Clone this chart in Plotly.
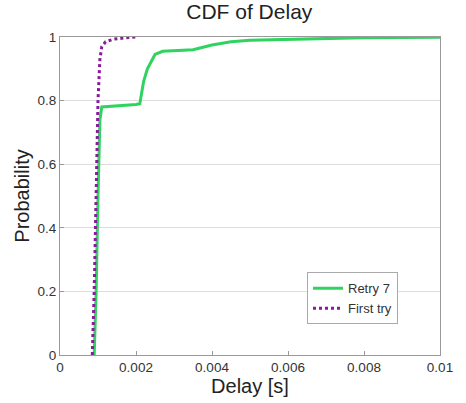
import plotly.graph_objects as go

# Empirical CDF samples of delay (seconds)
retry7_delay = [0.0009, 0.00095, 0.001, 0.00105, 0.0011, 0.0015, 0.002, 0.0021,
                0.0022, 0.0023, 0.0025, 0.0027, 0.003, 0.0035, 0.004, 0.0045,
                0.005, 0.006, 0.007, 0.008, 0.01]
retry7_prob = [0.0, 0.2, 0.5, 0.74, 0.78, 0.783, 0.788, 0.79,
               0.86, 0.9, 0.945, 0.955, 0.957, 0.96, 0.975, 0.985,
               0.99, 0.993, 0.996, 0.998, 0.999]

first_delay = [0.00085, 0.0009, 0.00095, 0.001, 0.00105, 0.0011, 0.0012,
               0.0014, 0.0017, 0.002]
first_prob = [0.0, 0.2, 0.5, 0.8, 0.93, 0.97, 0.985, 0.993, 0.997, 1.0]

x_ticks = [0, 0.002, 0.004, 0.006, 0.008, 0.01]
x_tick_text = ["0", "0.002", "0.004", "0.006", "0.008", "0.01"]
y_ticks = [0, 0.2, 0.4, 0.6, 0.8, 1]
y_tick_text = ["0", "0.2", "0.4", "0.6", "0.8", "1"]

font = "Liberation Sans, Arial, sans-serif"

fig = go.Figure()
fig.add_trace(go.Scatter(
    x=retry7_delay, y=retry7_prob, mode="lines", name="Retry 7",
    line=dict(color="#2fd35f", width=3),
))
fig.add_trace(go.Scatter(
    x=first_delay, y=first_prob, mode="lines", name="First try",
    line=dict(color="#8a1a99", width=3, dash="dot"),
))

fig.update_layout(
    width=466, height=403,
    margin=dict(l=60, r=26, t=37, b=48),
    paper_bgcolor="white", plot_bgcolor="white",
    title=dict(text="CDF of Delay", x=0.535, xanchor="center", y=0.99, yanchor="top",
               font=dict(family=font, size=21, color="#222")),
    font=dict(family=font, color="#333"),
    legend=dict(x=0.65, y=0.26, xanchor="left", yanchor="top",
                bgcolor="white", bordercolor="#aaa", borderwidth=1,
                font=dict(size=13, color="#333"), tracegroupgap=0,
                itemwidth=30),
    showlegend=True,
)
fig.update_xaxes(
    range=[0, 0.01], tickvals=x_ticks, ticktext=x_tick_text,
    showgrid=False, zeroline=False,
    showline=True, linecolor="#999", linewidth=1, mirror=True,
    ticks="inside", ticklen=4, tickcolor="#999",
    tickfont=dict(size=13.5, color="#333"),
    title=dict(text="Delay [s]", font=dict(size=20, color="#222"), standoff=0),
)
fig.update_yaxes(
    range=[0, 1], tickvals=y_ticks, ticktext=y_tick_text,
    showgrid=True, gridcolor="#dddddd", gridwidth=1, zeroline=False,
    showline=True, linecolor="#999", linewidth=1, mirror=True,
    ticks="inside", ticklen=4, tickcolor="#999",
    tickfont=dict(size=13.5, color="#333"),
    title=dict(text="Probability", font=dict(size=20, color="#222"), standoff=2),
)

fig.write_html("out.html")
